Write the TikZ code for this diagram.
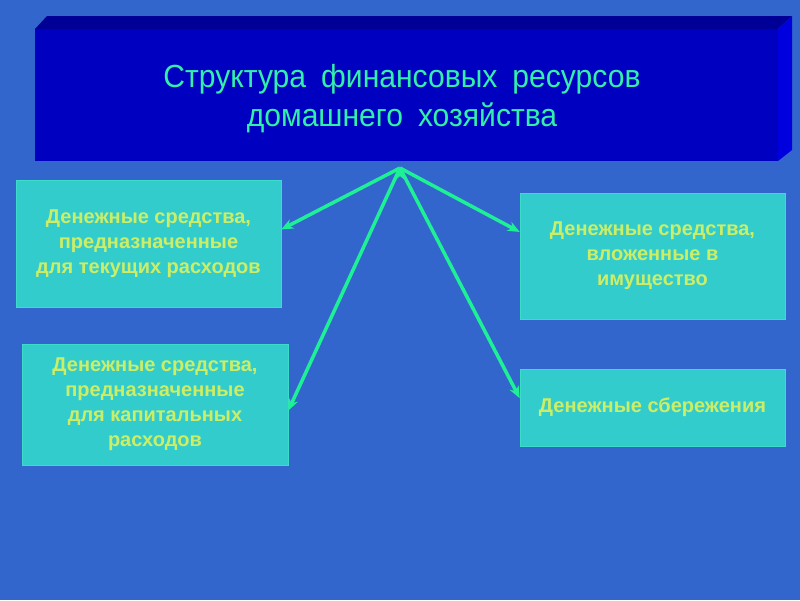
\documentclass[tikz,border=0pt]{standalone}
\usepackage{fontspec}
\setmainfont{Liberation Sans}
\newfontfamily\titlefont[FakeStretch=0.94,WordSpace=1.8]{Liberation Sans}
\usetikzlibrary{arrows.meta,calc}
\definecolor{slidebg}{RGB}{51,102,204}
\definecolor{titlefront}{RGB}{0,0,192}
\definecolor{titletop}{RGB}{0,0,150}
\definecolor{titleside}{RGB}{0,0,222}
\definecolor{titleink}{RGB}{50,240,170}
\definecolor{boxfill}{RGB}{51,204,204}
\definecolor{boxline}{RGB}{60,220,200}
\definecolor{boxink}{RGB}{204,238,102}
\definecolor{arrowcol}{RGB}{30,240,150}
\tikzset{box/.style={rectangle,fill=boxfill,draw=boxline,line width=0.6pt,align=center,
  text=boxink,font=\bfseries\fontsize{20}{25}\selectfont}}
\tikzset{titletext/.style={align=center,text=titleink,font=\titlefont\fontsize{32}{39}\selectfont}}

\begin{document}
\begin{tikzpicture}[x=1pt,y=-1pt]
\fill[slidebg] (0,0) rectangle (800,600);
% title block
\fill[titletop] (35,29) -- (47,16) -- (792,16) -- (778,29) -- cycle;
\fill[titleside] (778,29) -- (792,16) -- (792,150) -- (778,161) -- cycle;
\fill[titlefront] (35,29) rectangle (778,161);
\node[titletext] (T) at (402,99) {Структура финансовых ресурсов\\домашнего хозяйства};
\coordinate (O) at (400,168);
\node[box,minimum width=265pt,minimum height=127pt] (A) at (148.5,243.5) {Денежные средства,\\предназначенные\\для текущих расходов};
\node[box,minimum width=266pt,minimum height=121pt] (B) at (155,404.5) {Денежные средства,\\предназначенные\\для капитальных\\расходов};
\node[box,minimum width=265pt,minimum height=126pt] (C) at (652.5,256) {Денежные средства,\\вложенные в\\имущество};
\node[box,minimum width=265pt,minimum height=77pt] (D) at (652.5,407.5) {Денежные сбережения};
\path[-{Stealth[length=12pt,width=10pt]},draw=arrowcol,line width=3.5pt]
(O) edge ($(A.north east)!0.39!(A.south east)$)
(O) edge ($(B.north east)!0.55!(B.south east)$)
(O) edge ($(C.north west)!0.31!(C.south west)$)
(O) edge ($(D.north west)!0.38!(D.south west)$);
\end{tikzpicture}
\end{document}
